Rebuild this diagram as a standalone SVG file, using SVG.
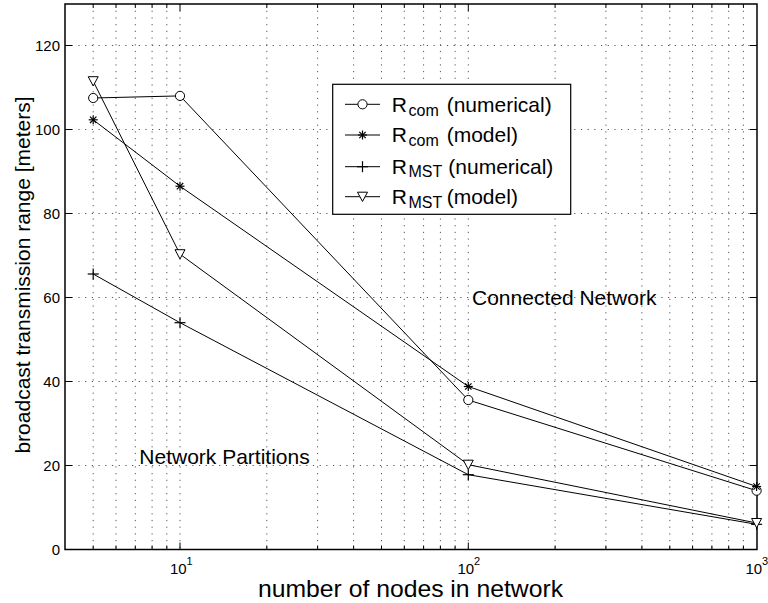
<svg xmlns="http://www.w3.org/2000/svg" xmlns:xlink="http://www.w3.org/1999/xlink" width="768" height="603" viewBox="0 0 768 603">
  <style>
    text { font-family: "Liberation Sans", Arial, sans-serif; fill: #000; }
    .tick { font-size: 15px; }
    .sup { font-size: 11px; }
    .lbl { font-size: 21px; }
    .xlab { font-size: 24px; }
    .sub { font-size: 16px; }
    .grid line { stroke: #555; stroke-width: 1; stroke-dasharray: 1.2 5.5; }
    .axis { fill: none; stroke: #000; stroke-width: 1.5; }
    .ticks line { stroke: #000; stroke-width: 1; }
    .series { fill: none; stroke: #000; stroke-width: 1; }
    .mk { fill: #fff; stroke: #000; stroke-width: 1; }
    .mkl { fill: none; stroke: #000; stroke-width: 1.2; }
  </style>
  <defs>
    <circle id="m-circle" class="mk" cx="0" cy="0" r="4.6"/>
    <g id="m-star" class="mkl">
      <line x1="-4.5" y1="0" x2="4.5" y2="0"/>
      <line x1="0" y1="-4.5" x2="0" y2="4.5"/>
      <line x1="-3.2" y1="-3.2" x2="3.2" y2="3.2"/>
      <line x1="-3.2" y1="3.2" x2="3.2" y2="-3.2"/>
    </g>
    <g id="m-plus" class="mkl">
      <line x1="-5.5" y1="0" x2="5.5" y2="0"/>
      <line x1="0" y1="-5.5" x2="0" y2="5.5"/>
    </g>
    <polygon id="m-tri" class="mk" points="-5,-4.5 5,-4.5 0,4.8"/>
  </defs>

  <rect x="0" y="0" width="768" height="603" fill="#fff"/>

  <!-- dotted grid: log-spaced verticals, every 20 m horizontally -->
  <g id="grid" class="grid">
    <line x1="93.2" y1="4" x2="93.2" y2="549.5"/>
    <line x1="116.0" y1="4" x2="116.0" y2="549.5"/>
    <line x1="135.3" y1="4" x2="135.3" y2="549.5"/>
    <line x1="152.1" y1="4" x2="152.1" y2="549.5"/>
    <line x1="166.8" y1="4" x2="166.8" y2="549.5"/>
    <line x1="180" y1="4" x2="180" y2="549.5"/>
    <line x1="266.8" y1="4" x2="266.8" y2="549.5"/>
    <line x1="317.6" y1="4" x2="317.6" y2="549.5"/>
    <line x1="353.6" y1="4" x2="353.6" y2="549.5"/>
    <line x1="381.5" y1="4" x2="381.5" y2="549.5"/>
    <line x1="404.3" y1="4" x2="404.3" y2="549.5"/>
    <line x1="423.6" y1="4" x2="423.6" y2="549.5"/>
    <line x1="440.4" y1="4" x2="440.4" y2="549.5"/>
    <line x1="455.1" y1="4" x2="455.1" y2="549.5"/>
    <line x1="468.3" y1="4" x2="468.3" y2="549.5"/>
    <line x1="555.1" y1="4" x2="555.1" y2="549.5"/>
    <line x1="605.9" y1="4" x2="605.9" y2="549.5"/>
    <line x1="641.9" y1="4" x2="641.9" y2="549.5"/>
    <line x1="669.8" y1="4" x2="669.8" y2="549.5"/>
    <line x1="692.6" y1="4" x2="692.6" y2="549.5"/>
    <line x1="711.9" y1="4" x2="711.9" y2="549.5"/>
    <line x1="728.7" y1="4" x2="728.7" y2="549.5"/>
    <line x1="743.4" y1="4" x2="743.4" y2="549.5"/>
    <line x1="65" y1="465.5" x2="757" y2="465.5"/>
    <line x1="65" y1="381.5" x2="757" y2="381.5"/>
    <line x1="65" y1="297.5" x2="757" y2="297.5"/>
    <line x1="65" y1="213.5" x2="757" y2="213.5"/>
    <line x1="65" y1="129.5" x2="757" y2="129.5"/>
    <line x1="65" y1="45.5" x2="757" y2="45.5"/>
  </g>

  <!-- tick marks on all four sides -->
  <g id="ticks" class="ticks">
    <!-- y major -->
    <line x1="65" y1="465.5" x2="72" y2="465.5"/><line x1="757" y1="465.5" x2="750" y2="465.5"/>
    <line x1="65" y1="381.5" x2="72" y2="381.5"/><line x1="757" y1="381.5" x2="750" y2="381.5"/>
    <line x1="65" y1="297.5" x2="72" y2="297.5"/><line x1="757" y1="297.5" x2="750" y2="297.5"/>
    <line x1="65" y1="213.5" x2="72" y2="213.5"/><line x1="757" y1="213.5" x2="750" y2="213.5"/>
    <line x1="65" y1="129.5" x2="72" y2="129.5"/><line x1="757" y1="129.5" x2="750" y2="129.5"/>
    <line x1="65" y1="45.5" x2="72" y2="45.5"/><line x1="757" y1="45.5" x2="750" y2="45.5"/>
    <!-- x major -->
    <line x1="180" y1="549.5" x2="180" y2="542.5"/><line x1="180" y1="4" x2="180" y2="11"/>
    <line x1="468.3" y1="549.5" x2="468.3" y2="542.5"/><line x1="468.3" y1="4" x2="468.3" y2="11"/>
    <!-- x minor -->
    <line x1="93.2" y1="549.5" x2="93.2" y2="545.5"/><line x1="93.2" y1="4" x2="93.2" y2="8"/>
    <line x1="116.0" y1="549.5" x2="116.0" y2="545.5"/><line x1="116.0" y1="4" x2="116.0" y2="8"/>
    <line x1="135.3" y1="549.5" x2="135.3" y2="545.5"/><line x1="135.3" y1="4" x2="135.3" y2="8"/>
    <line x1="152.1" y1="549.5" x2="152.1" y2="545.5"/><line x1="152.1" y1="4" x2="152.1" y2="8"/>
    <line x1="166.8" y1="549.5" x2="166.8" y2="545.5"/><line x1="166.8" y1="4" x2="166.8" y2="8"/>
    <line x1="266.8" y1="549.5" x2="266.8" y2="545.5"/><line x1="266.8" y1="4" x2="266.8" y2="8"/>
    <line x1="317.6" y1="549.5" x2="317.6" y2="545.5"/><line x1="317.6" y1="4" x2="317.6" y2="8"/>
    <line x1="353.6" y1="549.5" x2="353.6" y2="545.5"/><line x1="353.6" y1="4" x2="353.6" y2="8"/>
    <line x1="381.5" y1="549.5" x2="381.5" y2="545.5"/><line x1="381.5" y1="4" x2="381.5" y2="8"/>
    <line x1="404.3" y1="549.5" x2="404.3" y2="545.5"/><line x1="404.3" y1="4" x2="404.3" y2="8"/>
    <line x1="423.6" y1="549.5" x2="423.6" y2="545.5"/><line x1="423.6" y1="4" x2="423.6" y2="8"/>
    <line x1="440.4" y1="549.5" x2="440.4" y2="545.5"/><line x1="440.4" y1="4" x2="440.4" y2="8"/>
    <line x1="455.1" y1="549.5" x2="455.1" y2="545.5"/><line x1="455.1" y1="4" x2="455.1" y2="8"/>
    <line x1="555.1" y1="549.5" x2="555.1" y2="545.5"/><line x1="555.1" y1="4" x2="555.1" y2="8"/>
    <line x1="605.9" y1="549.5" x2="605.9" y2="545.5"/><line x1="605.9" y1="4" x2="605.9" y2="8"/>
    <line x1="641.9" y1="549.5" x2="641.9" y2="545.5"/><line x1="641.9" y1="4" x2="641.9" y2="8"/>
    <line x1="669.8" y1="549.5" x2="669.8" y2="545.5"/><line x1="669.8" y1="4" x2="669.8" y2="8"/>
    <line x1="692.6" y1="549.5" x2="692.6" y2="545.5"/><line x1="692.6" y1="4" x2="692.6" y2="8"/>
    <line x1="711.9" y1="549.5" x2="711.9" y2="545.5"/><line x1="711.9" y1="4" x2="711.9" y2="8"/>
    <line x1="728.7" y1="549.5" x2="728.7" y2="545.5"/><line x1="728.7" y1="4" x2="728.7" y2="8"/>
    <line x1="743.4" y1="549.5" x2="743.4" y2="545.5"/><line x1="743.4" y1="4" x2="743.4" y2="8"/>
  </g>

  <rect id="axes-box" class="axis" x="65" y="4" width="692" height="545.5"/>

  <!-- tick labels -->
  <g id="y-tick-labels" class="tick" text-anchor="end">
    <text x="60" y="555">0</text>
    <text x="60" y="471">20</text>
    <text x="60" y="387">40</text>
    <text x="60" y="303">60</text>
    <text x="60" y="219">80</text>
    <text x="60" y="135">100</text>
    <text x="60" y="51">120</text>
  </g>
  <g id="x-tick-labels">
    <text class="tick" x="170" y="573.5">10</text><text class="sup" x="186.5" y="564.5">1</text>
    <text class="tick" x="457.5" y="573.5">10</text><text class="sup" x="474" y="564.5">2</text>
    <text class="tick" x="745.5" y="573.5">10</text><text class="sup" x="762" y="564.5">3</text>
  </g>

  <!-- axis titles -->
  <text id="x-label" class="xlab" x="258" y="597" textLength="305" lengthAdjust="spacingAndGlyphs">number of nodes in network</text>
  <text id="y-label" class="lbl" transform="translate(30,275) rotate(-90)" text-anchor="middle">broadcast transmission range [meters]</text>

  <!-- region annotations -->
  <text id="note-connected" class="lbl" x="472" y="305">Connected Network</text>
  <text id="note-partitions" class="lbl" x="139.3" y="464.3">Network Partitions</text>

  <!-- data series: n = 5, 10, 100, 1000 -->
  <g id="series-rcom-numerical">
    <polyline class="series" points="93.2,98 180,95.9 468.3,400 756.6,490.7"/>
    <use xlink:href="#m-circle" x="93.2" y="98"/>
    <use xlink:href="#m-circle" x="180" y="95.9"/>
    <use xlink:href="#m-circle" x="468.3" y="400"/>
    <use xlink:href="#m-circle" x="756.6" y="490.7"/>
  </g>
  <g id="series-rcom-model">
    <polyline class="series" points="93.2,119.8 180,186.2 468.3,386.5 756.6,486.5"/>
    <use xlink:href="#m-star" x="93.2" y="119.8"/>
    <use xlink:href="#m-star" x="180" y="186.2"/>
    <use xlink:href="#m-star" x="468.3" y="386.5"/>
    <use xlink:href="#m-star" x="756.6" y="486.5"/>
  </g>
  <g id="series-rmst-numerical">
    <polyline class="series" points="93.2,274 180,322.7 468.3,474.7 756.6,524.3"/>
    <use xlink:href="#m-plus" x="93.2" y="274"/>
    <use xlink:href="#m-plus" x="180" y="322.7"/>
    <use xlink:href="#m-plus" x="468.3" y="474.7"/>
    <use xlink:href="#m-plus" x="756.6" y="524.3"/>
  </g>
  <g id="series-rmst-model">
    <polyline class="series" points="93.2,81.2 180,254.2 468.3,464.7 756.6,523"/>
    <use xlink:href="#m-tri" x="93.2" y="81.2"/>
    <use xlink:href="#m-tri" x="180" y="254.2"/>
    <use xlink:href="#m-tri" x="468.3" y="464.7"/>
    <use xlink:href="#m-tri" x="756.6" y="523"/>
  </g>

  <!-- legend -->
  <g id="legend">
    <rect x="332.7" y="84.3" width="238" height="130" fill="#fff" stroke="#000" stroke-width="1.2"/>
    <g class="series">
      <line x1="345" y1="104.3" x2="380" y2="104.3"/>
      <line x1="345" y1="135" x2="380" y2="135"/>
      <line x1="345" y1="166.7" x2="380" y2="166.7"/>
      <line x1="345" y1="196.7" x2="380" y2="196.7"/>
    </g>
    <use xlink:href="#m-circle" x="362.5" y="104.3"/>
    <use xlink:href="#m-star" x="362.5" y="135"/>
    <use xlink:href="#m-plus" x="362.5" y="166.7"/>
    <use xlink:href="#m-tri" x="362.5" y="196.7"/>
    <g class="lbl">
      <text x="391.7" y="111.7">R</text><text class="sub" x="408.5" y="115.5">com</text><text x="446.7" y="111.7">(numerical)</text>
      <text x="391.7" y="142.4">R</text><text class="sub" x="408.5" y="146.2">com</text><text x="446.7" y="142.4">(model)</text>
      <text x="391.7" y="173.6">R</text><text class="sub" x="408.5" y="177.4">MST</text><text x="448.3" y="173.6">(numerical)</text>
      <text x="391.7" y="203.8">R</text><text class="sub" x="408.5" y="207.6">MST</text><text x="446.7" y="203.8">(model)</text>
    </g>
  </g>
</svg>
